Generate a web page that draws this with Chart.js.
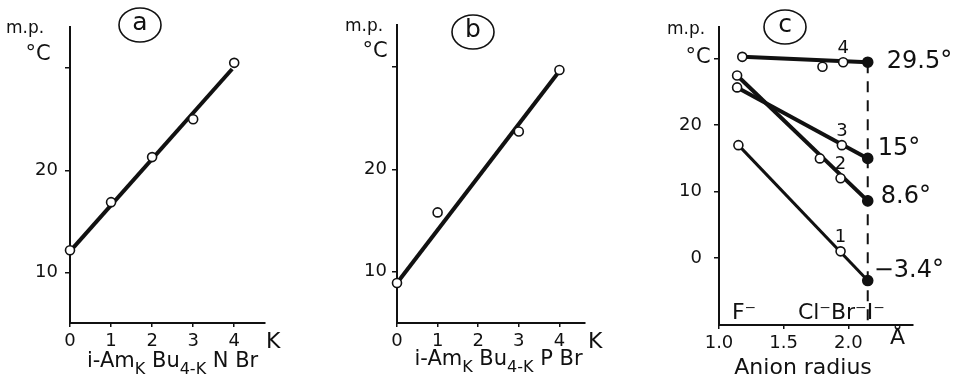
<!DOCTYPE html>
<html>
<head>
<meta charset="utf-8">
<title>Melting points of quaternary salts</title>
<script src="https://cdn.jsdelivr.net/npm/chart.js@4.4.1/dist/chart.umd.min.js"></script>
<style>
  html, body { margin: 0; padding: 0; background: #fff; }
  body { position: relative; width: 954px; height: 385px; overflow: hidden; }
  .panel { position: absolute; top: 0; height: 385px; }
  #panelA { left: 0; width: 318px; }
  #panelB { left: 318px; width: 302px; }
  #panelC { left: 620px; width: 334px; }
</style>
</head>
<body>
<div class="panel" id="panelA"><canvas id="chartA"></canvas></div>
<div class="panel" id="panelB"><canvas id="chartB"></canvas></div>
<div class="panel" id="panelC"><canvas id="chartC"></canvas></div>
<script>
// (a) i-Am(k)Bu(4-k)N Br
const kAmmonium = [0, 1, 2, 3, 4];
const mpAmmonium = [12.2, 16.9, 21.3, 25.0, 30.5];
const fitAmmoniumK = [0, 3.95];
const fitAmmoniumMp = [12.1, 29.9];

// (b) i-Am(k)Bu(4-k)P Br
const kPhosphonium = [0, 1, 3, 4];
const mpPhosphonium = [8.9, 15.8, 23.7, 29.7];
const fitPhosphoniumK = [0, 4];
const fitPhosphoniumMp = [8.9, 29.6];

// (c) melting point against anion radius, last point of each series is the iodide
const radius1 = [1.15, 1.94, 2.15];
const mp1 = [17, 1, -3.4];
const radius2 = [1.14, 1.78, 1.94, 2.15];
const mp2 = [27.5, 15, 12, 8.6];
const radius3 = [1.14, 1.95, 2.15];
const mp3 = [25.7, 17, 15];
const radius4 = [1.18, 1.80, 1.96, 2.15];
const mp4 = [30.3, 28.8, 29.5, 29.5];
const seriesNames = ['1', '2', '3', '4'];

// tick values
const kTicks = [0, 1, 2, 3, 4];
const mpTicksAB = [10, 20, 30];
const mpTicksC = [0, 10, 20, 30];
const radiusTicks = [1.0, 1.5, 2.0];

const BLACK = '#111';
const FONT = "'DejaVu Sans', sans-serif";

function zip(xs, ys) {
    return xs.map((x, i) => ({ x: x, y: ys[i] }));
}

function lineSet(xs, ys, width, dash) {
    return {
        data: zip(xs, ys),
        showLine: true,
        borderColor: BLACK,
        borderWidth: width,
        borderDash: dash || [],
        pointRadius: 0,
        clip: false,
        order: 1
    };
}

function markerSet(xs, ys, lastFilled) {
    const last = xs.length - 1;
    return {
        data: zip(xs, ys),
        showLine: false,
        pointRadius: xs.map((x, i) => (lastFilled && i === last) ? 5 : 4.5),
        pointBorderWidth: 1.6,
        pointBorderColor: BLACK,
        pointBackgroundColor: xs.map((x, i) => (lastFilled && i === last) ? BLACK : '#fff'),
        clip: false,
        order: 0
    };
}

function axes(o) {
    return {
        x: {
            type: 'linear',
            min: o.xMin,
            max: o.xMax,
            afterFit: s => { s.height = o.xHeight; },
            afterBuildTicks: s => { s.ticks = o.xTicks.map(v => ({ value: v })); },
            ticks: {
                color: BLACK,
                font: { family: FONT, size: 18 },
                padding: 4,
                maxRotation: 0,
                autoSkip: false,
                callback: o.xLabel
            },
            grid: { drawOnChartArea: false, drawTicks: true, tickLength: 4, color: BLACK, lineWidth: 1.5 },
            border: { display: true, color: BLACK, width: 2 }
        },
        y: {
            type: 'linear',
            min: o.yMin,
            max: o.yMax,
            afterFit: s => { s.width = o.yWidth; },
            afterBuildTicks: s => { s.ticks = o.yTicks.map(v => ({ value: v })); },
            ticks: {
                color: BLACK,
                font: { family: FONT, size: 18 },
                padding: o.yPad,
                autoSkip: false,
                callback: v => (v === 30 ? '' : String(v))
            },
            grid: { drawOnChartArea: false, drawTicks: true, tickLength: 5, color: BLACK, lineWidth: 1.5 },
            border: { display: true, color: BLACK, width: 2 }
        }
    };
}

// small text helpers used by the annotation plugins
function text(ctx, str, x, y, size, align) {
    ctx.save();
    ctx.fillStyle = BLACK;
    ctx.font = size + 'px ' + FONT;
    ctx.textAlign = align || 'center';
    ctx.textBaseline = 'middle';
    ctx.fillText(str, x, y);
    ctx.restore();
}

// text with subscripts: parts = [[string, isSub], ...], centred on cx
function richText(ctx, parts, cx, y, size) {
    ctx.save();
    ctx.fillStyle = BLACK;
    ctx.textBaseline = 'middle';
    ctx.textAlign = 'left';
    const subSize = Math.round(size * 0.75);
    let total = 0;
    parts.forEach(p => {
        ctx.font = (p[1] ? subSize : size) + 'px ' + FONT;
        total += ctx.measureText(p[0]).width;
    });
    let x = cx - total / 2;
    parts.forEach(p => {
        ctx.font = (p[1] ? subSize : size) + 'px ' + FONT;
        ctx.fillText(p[0], x, p[1] ? y + size * 0.35 : y);
        x += ctx.measureText(p[0]).width;
    });
    ctx.restore();
}

function circledLetter(ctx, cx, cy, letter) {
    ctx.save();
    ctx.strokeStyle = BLACK;
    ctx.lineWidth = 1.6;
    ctx.beginPath();
    ctx.ellipse(cx, cy, 21, 17, 0, 0, Math.PI * 2);
    ctx.stroke();
    ctx.restore();
    text(ctx, letter, cx, cy - 2, 25);
}

function annotate(draw) {
    return {
        id: 'annotate',
        afterDraw(chart) {
            draw(chart.ctx, chart.scales.x, chart.scales.y, chart.chartArea);
        }
    };
}

const common = {
    responsive: true,
    maintainAspectRatio: false,
    animation: false,
    events: [],
    plugins: { legend: { display: false }, tooltip: { enabled: false } }
};

// Panel (a)
new Chart(document.getElementById('chartA'), {
    type: 'scatter',
    data: {
        datasets: [
            lineSet(fitAmmoniumK, fitAmmoniumMp, 4),
            markerSet(kAmmonium, mpAmmonium, false)
        ]
    },
    options: Object.assign({}, common, {
        layout: { padding: { left: 0, top: 27, right: 53, bottom: 0 } },
        scales: axes({
            xMin: 0, xMax: 4.75, xHeight: 62, xTicks: kTicks, xLabel: v => String(v),
            yMin: 5.1, yMax: 34, yWidth: 70, yTicks: mpTicksAB, yPad: 7
        })
    }),
    plugins: [annotate((ctx, x, y, area) => {
        circledLetter(ctx, area.left + 70, 25, 'a');
        text(ctx, 'm.p.', area.left - 45, 29, 17);
        text(ctx, '°C', area.left - 32, 55, 21);
        text(ctx, 'K', x.getPixelForValue(4.95), 342, 22);
        richText(ctx, [['i-Am', false], ['K', true], [' Bu', false], ['4-K', true], [' N Br', false]],
            x.getPixelForValue(2.5), 362, 21);
    })]
});

// Panel (b)
new Chart(document.getElementById('chartB'), {
    type: 'scatter',
    data: {
        datasets: [
            lineSet(fitPhosphoniumK, fitPhosphoniumMp, 4),
            markerSet(kPhosphonium, mpPhosphonium, false)
        ]
    },
    options: Object.assign({}, common, {
        layout: { padding: { left: 0, top: 25, right: 35, bottom: 0 } },
        scales: axes({
            xMin: 0, xMax: 4.63, xHeight: 62, xTicks: kTicks, xLabel: v => String(v),
            yMin: 5.0, yMax: 34.1, yWidth: 79, yTicks: mpTicksAB, yPad: 5
        })
    }),
    plugins: [annotate((ctx, x, y, area) => {
        circledLetter(ctx, area.left + 76, 32, 'b');
        text(ctx, 'm.p.', area.left - 33, 27, 17);
        text(ctx, '°C', area.left - 22, 52, 21);
        text(ctx, 'K', x.getPixelForValue(4.88), 342, 22);
        richText(ctx, [['i-Am', false], ['K', true], [' Bu', false], ['4-K', true], [' P Br', false]],
            x.getPixelForValue(2.5), 360, 21);
    })]
});

// Panel (c)
const radiusSeries = [radius1, radius2, radius3, radius4];
const mpSeries = [mp1, mp2, mp3, mp4];
const seriesWidths = [3, 4, 4, 4];
const iodideRadius = radius1[radius1.length - 1];

const datasetsC = [];
radiusSeries.forEach((xs, i) => {
    const ys = mpSeries[i];
    const last = xs.length - 1;
    datasetsC.push(lineSet([xs[0], xs[last]], [ys[0], ys[last]], seriesWidths[i]));
    datasetsC.push(markerSet(xs, ys, true));
});
// dashed guide down from the iodide points
datasetsC.push(lineSet([iodideRadius, iodideRadius], [mp4[mp4.length - 1], -10.1], 2, [11, 8]));

// value labels beside the iodide points: [dx, dy] per series
const valueShift = [[6, -10], [13, -4], [10, -10], [19, 0]];

new Chart(document.getElementById('chartC'), {
    type: 'scatter',
    data: { datasets: datasetsC },
    options: Object.assign({}, common, {
        layout: { padding: { left: 0, top: 27, right: 41, bottom: 0 } },
        scales: axes({
            xMin: 1.0, xMax: 2.5, xHeight: 60, xTicks: radiusTicks, xLabel: v => v.toFixed(1),
            yMin: -10.1, yMax: 34.8, yWidth: 99, yTicks: mpTicksC, yPad: 12
        })
    }),
    plugins: [annotate((ctx, x, y, area) => {
        circledLetter(ctx, area.left + 66, 27, 'c');
        text(ctx, 'm.p.', area.left - 33, 30, 17);
        text(ctx, '°C', area.left - 21, 58, 21);
        text(ctx, 'Å', x.getPixelForValue(2.38), 338, 22);
        text(ctx, 'Anion radius', x.getPixelForValue(1.65), 368, 22);
        text(ctx, 'F⁻', x.getPixelForValue(1.1), y.getPixelForValue(-8.3), 22, 'left');
        text(ctx, 'Cl⁻Br⁻I⁻', x.getPixelForValue(1.61), y.getPixelForValue(-8.3), 22, 'left');
        radiusSeries.forEach((xs, i) => {
            const ys = mpSeries[i];
            const last = xs.length - 1;
            // series number above the bromide point
            text(ctx, seriesNames[i], x.getPixelForValue(xs[last - 1]), y.getPixelForValue(ys[last - 1]) - 14, 18);
            const v = ys[last];
            const label = (v < 0 ? '−' + Math.abs(v) : String(v)) + '°';
            text(ctx, label, x.getPixelForValue(xs[last]) + valueShift[i][0],
                y.getPixelForValue(v) + valueShift[i][1], 24, 'left');
        });
    })]
});
</script>
</body>
</html>
